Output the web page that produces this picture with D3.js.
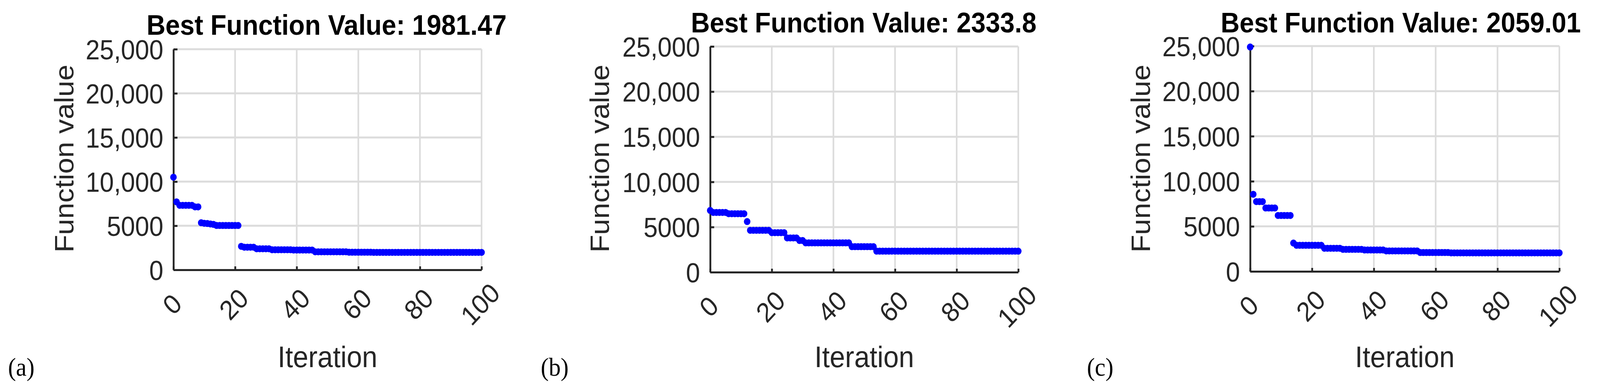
<!DOCTYPE html>
<html><head><meta charset="utf-8">
<script src="https://cdn.jsdelivr.net/npm/d3@7"></script>
<style>html,body{margin:0;padding:0;overflow:hidden;background:#fff;width:100%;height:100%}
svg{position:fixed;left:0;top:0;width:100vw;height:100vh}
text{font-family:"Liberation Sans",Arial,sans-serif;fill:#262626}</style>
</head><body><svg id="c" viewBox="0 0 4409 996" preserveAspectRatio="none"></svg>
<script>
const iterations = d3.range(0, 101);
const seriesA = [10500,7700,7315,7315,7315,7315,7315,7140,7140,5340,5280,5250,5200,5150,5030,5030,5030,5030,5030,5030,5030,5030,2670,2570,2570,2570,2570,2390,2390,2390,2390,2390,2280,2280,2280,2280,2280,2280,2280,2250,2250,2250,2250,2250,2250,2250,2050,2050,2050,2050,2050,2050,2050,2050,2050,2050,2050,2000,2000,2000,2000,2000,2000,2000,2000,1981.47,1981.47,1981.47,1981.47,1981.47,1981.47,1981.47,1981.47,1981.47,1981.47,1981.47,1981.47,1981.47,1981.47,1981.47,1981.47,1981.47,1981.47,1981.47,1981.47,1981.47,1981.47,1981.47,1981.47,1981.47,1981.47,1981.47,1981.47,1981.47,1981.47,1981.47,1981.47,1981.47,1981.47,1981.47,1981.47];
const seriesB = [6840,6620,6620,6620,6620,6620,6480,6480,6480,6480,6480,6480,5610,4640,4640,4640,4640,4640,4640,4640,4380,4380,4380,4380,4380,3800,3800,3800,3800,3510,3510,3250,3250,3250,3250,3250,3250,3250,3250,3250,3250,3250,3250,3250,3250,3250,2830,2830,2830,2830,2830,2830,2830,2830,2333.8,2333.8,2333.8,2333.8,2333.8,2333.8,2333.8,2333.8,2333.8,2333.8,2333.8,2333.8,2333.8,2333.8,2333.8,2333.8,2333.8,2333.8,2333.8,2333.8,2333.8,2333.8,2333.8,2333.8,2333.8,2333.8,2333.8,2333.8,2333.8,2333.8,2333.8,2333.8,2333.8,2333.8,2333.8,2333.8,2333.8,2333.8,2333.8,2333.8,2333.8,2333.8,2333.8,2333.8,2333.8,2333.8,2333.8];
const seriesC = [24900,8560,7750,7750,7750,7040,7040,7040,7040,6210,6210,6210,6210,6210,3150,2900,2900,2900,2900,2900,2900,2900,2900,2900,2570,2570,2570,2570,2570,2570,2450,2450,2450,2450,2450,2450,2450,2380,2380,2380,2380,2380,2380,2380,2280,2280,2280,2280,2280,2280,2280,2280,2280,2280,2280,2100,2100,2100,2100,2100,2100,2100,2100,2100,2100,2059.01,2059.01,2059.01,2059.01,2059.01,2059.01,2059.01,2059.01,2059.01,2059.01,2059.01,2059.01,2059.01,2059.01,2059.01,2059.01,2059.01,2059.01,2059.01,2059.01,2059.01,2059.01,2059.01,2059.01,2059.01,2059.01,2059.01,2059.01,2059.01,2059.01,2059.01,2059.01,2059.01,2059.01,2059.01,2059.01];
const titles = ["Best Function Value: 1981.47","Best Function Value: 2333.8","Best Function Value: 2059.01"];
const panelLabels = ["(a)","(b)","(c)"];
const xTicks = [0,20,40,60,80,100];
const yTicks = [0,5000,10000,15000,20000,25000];
const yTickLabels = ["0","5000","10,000","15,000","20,000","25,000"];
const xLabel = "Iteration", yLabel = "Function value";

const layout = [
 {x0:478,x1:1327,y0:126,y1:691,tx:900,ty:89,yl:183,pl:22},
 {x0:1957,x1:2806,y0:119,y1:697,tx:2380,ty:83,yl:1659,pl:1490},
 {x0:3445,x1:4297,y0:118,y1:695,tx:3860,ty:83,yl:3149,pl:2995}
];
const data=[seriesA,seriesB,seriesC];
const svg=d3.select("#c");
layout.forEach((L,k)=>{
  const x=d3.scaleLinear().domain([0,100]).range([L.x0,L.x1]);
  const y=d3.scaleLinear().domain([0,25000]).range([L.y1,L.y0]);
  const g=svg.append("g");
  g.selectAll(".gy").data(yTicks).join("line").attr("x1",L.x0).attr("x2",L.x1)
   .attr("y1",d=>y(d)).attr("y2",d=>y(d)).attr("stroke","#dcdcdc").attr("stroke-width",5);
  g.selectAll(".gx").data(xTicks).join("line").attr("y1",L.y0).attr("y2",L.y1)
   .attr("x1",d=>x(d)).attr("x2",d=>x(d)).attr("stroke","#dcdcdc").attr("stroke-width",4.5);
  const ya=g.append("g").attr("transform",`translate(${L.x0},0)`)
   .call(d3.axisLeft(y).tickValues(yTicks).tickFormat((d,i)=>yTickLabels[i]).tickSizeInner(-11).tickSizeOuter(0).tickPadding(28));
  const xa=g.append("g").attr("transform",`translate(0,${L.y1})`)
   .call(d3.axisBottom(x).tickValues(xTicks).tickSizeInner(-9).tickSizeOuter(0).tickFormat(d3.format("d")));
  [ya,xa].forEach(a=>{a.select(".domain").attr("stroke","#262626").attr("stroke-width",5);
    a.selectAll(".tick line").attr("stroke","#262626").attr("stroke-width",5);
    a.selectAll("text").attr("fill","#262626").style("font-family","Liberation Sans, Arial").attr("font-size",70);});
  ya.selectAll("text").attr("dy","0.36em");
  xa.selectAll(".tick text").attr("text-anchor","middle").attr("y",0).attr("dy",0)
   .attr("transform","translate(0,92) rotate(-45)").attr("dominant-baseline","middle");
  g.selectAll("circle").data(data[k]).join("circle")
   .attr("cx",(d,i)=>x(iterations[i])).attr("cy",d=>y(d)).attr("r",9).attr("fill","#0000ff");
  g.append("text").attr("x",L.tx).attr("y",L.ty).attr("text-anchor","middle").attr("font-weight","bold")
   .attr("font-size",72).style("fill","#000").text(titles[k]);
  g.append("text").attr("transform",`translate(${L.yl},406) rotate(-90)`).attr("text-anchor","middle")
   .attr("font-size",74).attr("dominant-baseline","middle").text(yLabel);
  g.append("text").attr("x",(L.x0+L.x1)/2).attr("y",940).attr("text-anchor","middle").attr("font-size",76).text(xLabel);
  g.append("text").attr("x",L.pl).attr("y",962).attr("font-size",66).style("font-family","Liberation Serif, Times New Roman, serif").style("fill","#000").text(panelLabels[k]);
});
</script></body></html>
